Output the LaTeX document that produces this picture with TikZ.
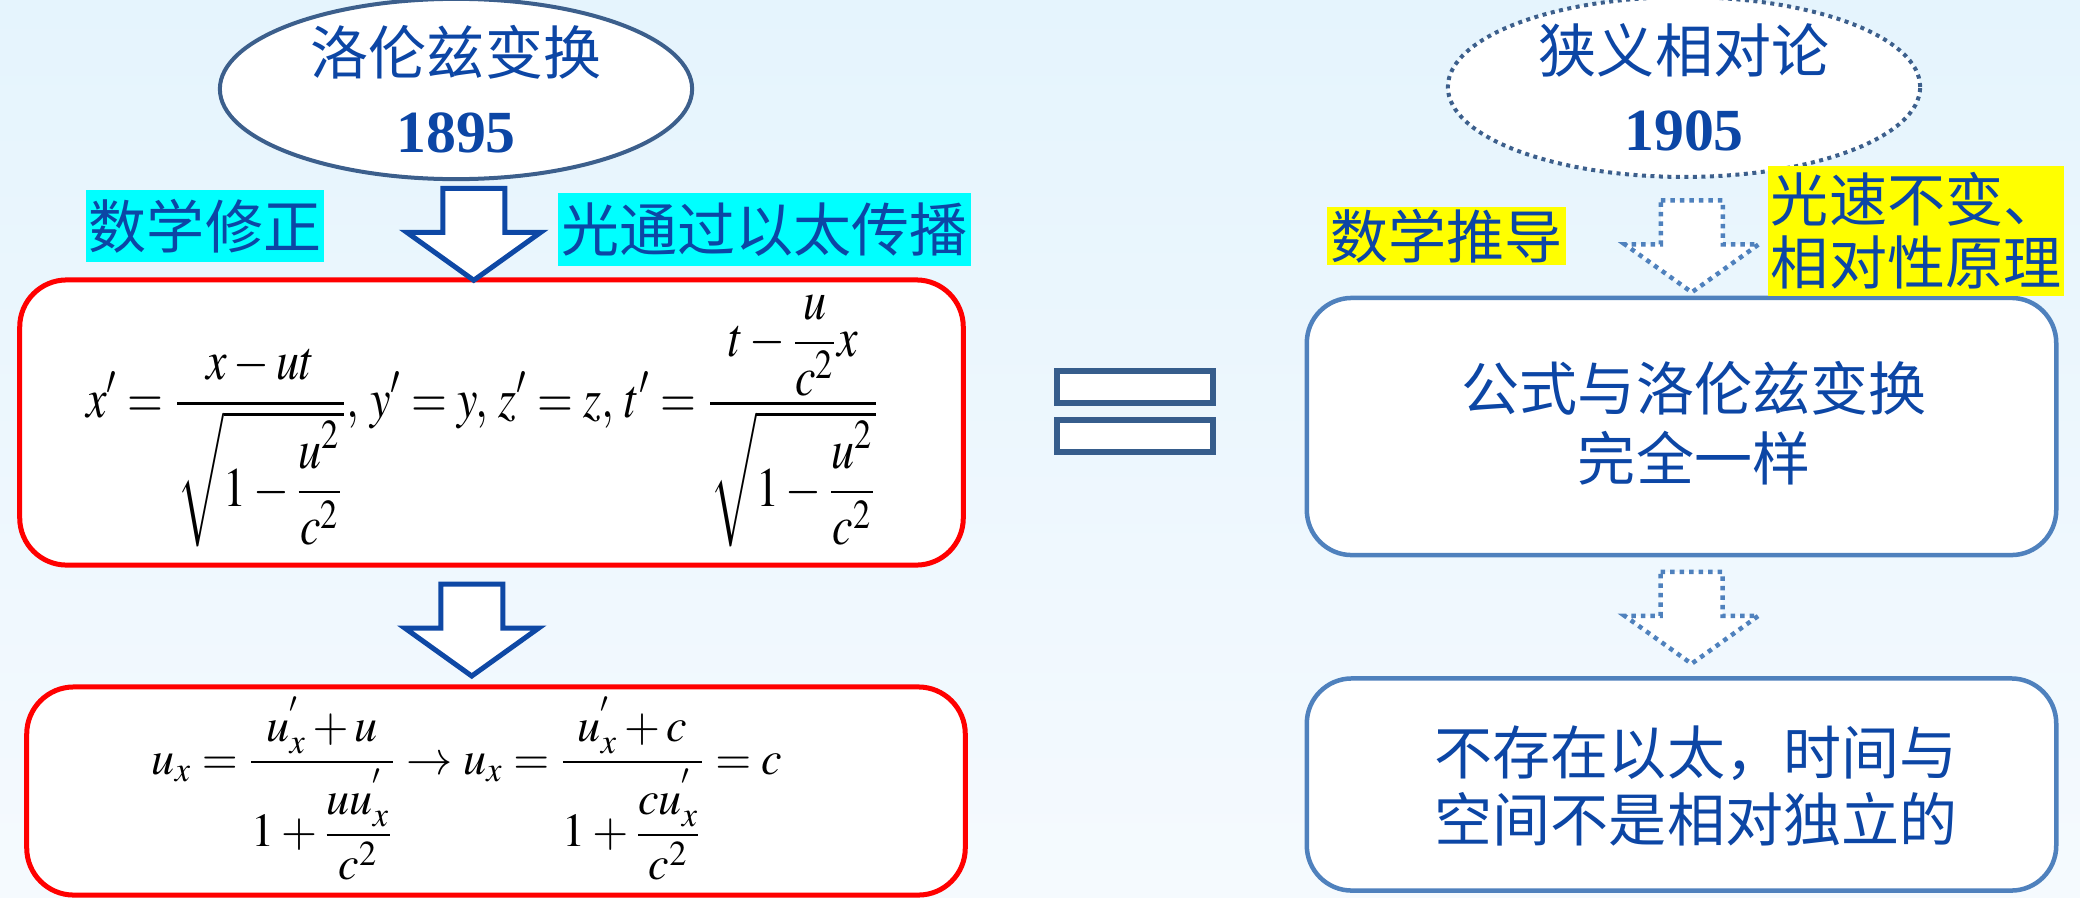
\documentclass[tikz,border=0pt]{standalone}
\usepackage{amsmath}
\usepackage{mathptmx}
\usepackage[no-math]{fontspec}
\usepackage{graphicx}
\setmainfont{Liberation Serif}
\newfontfamily\cjk{Noto Sans CJK SC}
\usetikzlibrary{shapes.geometric,calc}
\definecolor{bgtop}{RGB}{229,244,253}
\definecolor{bgbot}{RGB}{245,250,254}
\definecolor{txtblue}{RGB}{12,70,165}
\definecolor{arrblue}{RGB}{14,72,165}
\definecolor{ellblue}{RGB}{60,95,140}
\definecolor{boxblue}{RGB}{79,129,189}
\definecolor{eqblue}{RGB}{54,93,140}
\definecolor{tagcyan}{RGB}{0,255,255}
\definecolor{tagyellow}{RGB}{255,255,0}
\definecolor{boxred}{RGB}{255,0,0}
\tikzset{font=\cjk\fontsize{16.5}{19.8}\selectfont}
\tikzset{
  titleell/.style={ellipse, draw=ellblue, line width=0.04cm, fill=white, minimum width=4.72cm,
    minimum height=1.55cm, inner sep=0pt, align=center, text=txtblue},
  redbox/.style={rectangle, rounded corners=0.47cm, draw=boxred, line width=0.05cm, fill=white, inner sep=0pt},
  bluebox/.style={rectangle, rounded corners=0.45cm, draw=boxblue, line width=0.045cm, fill=white, inner sep=0pt},
  tag/.style={text=txtblue, inner xsep=0.03cm, inner ysep=0pt, align=left},
  eqbar/.style={rectangle, draw=eqblue, line width=0.06cm, fill=white, minimum width=1.56cm,
    minimum height=0.32cm, inner sep=0pt},
  solidarr/.style={draw=arrblue, line width=0.05cm, fill=white},
  dotarr/.style={draw=boxblue, line width=0.045cm, fill=white, dash pattern=on 0.045cm off 0.05cm},
  downarr/.pic={
    \path[pic actions] (-31,-46) -- (31,-46) -- (31,-2) -- (67,-2) -- (0,46) -- (-67,-2) -- (-31,-2) -- cycle;
  }
}
\newcommand{\yr}[1]{{\rmfamily\bfseries\fontsize{17}{19.8}\selectfont #1}}

\begin{document}
\begin{tikzpicture}[x=0.01cm,y=-0.01cm]
  \useasboundingbox (0,0) rectangle (2080,897);
  \fill[top color=bgtop, bottom color=bgbot] (0,0) rectangle (2080,897);

  \node[titleell] (ellL) at (456,89) {洛伦兹变换\\[0.08cm]\yr{1895}};
  \node[titleell, dash pattern=on 0.04cm off 0.045cm] (ellR) at (1684,87) {狭义相对论\\[0.08cm]\yr{1905}};

  \node[redbox, minimum width=9.43cm, minimum height=2.85cm] (boxL1) at (491.5,422.5) {};
  \node[redbox, minimum width=9.38cm, minimum height=2.08cm] (boxL2) at (496,791) {};
  \node[bluebox, minimum width=7.49cm, minimum height=2.57cm] (boxR1) at (1681.5,426.5) {};
  \node[bluebox, minimum width=7.49cm, minimum height=2.12cm] (boxR2) at (1681.5,784.5) {};

  \node[inner sep=0pt] (fmL1) at (483,421) {\resizebox*{7.93cm}{2.52cm}{$\displaystyle
    x'=\frac{x-ut}{\sqrt{1-\dfrac{u^2}{c^2}}},\,y'=y,\,z'=z,\,t'=\frac{t-\dfrac{u}{c^2}x}{\sqrt{1-\dfrac{u^2}{c^2}}}$}};
  \node[inner sep=0pt] (fmL2) at (467,788) {\resizebox*{6.30cm}{1.83cm}{$\displaystyle
    u_x=\frac{u_x^{'}+u}{1+\dfrac{uu_x^{'}}{c^2}}\rightarrow u_x=\frac{u_x^{'}+c}{1+\dfrac{cu_x^{'}}{c^2}}=c$}};

  \node[text=txtblue, align=center, font=\cjk\fontsize{16.5}{19.9}\selectfont] (txtR1) at (1694,423)
    {公式与洛伦兹变换\\完全一样};
  \node[text=txtblue, align=center, font=\cjk\fontsize{16.5}{19}\selectfont] (txtR2) at (1696,786)
    {不存在以太，时间与\\空间不是相对独立的};

  \node[tag, fill=tagcyan, minimum height=0.72cm] (tagL1) at (205,226) {数学修正};
  \node[tag, fill=tagcyan, minimum height=0.73cm] (tagL2) at (764.5,229.5) {光通过以太传播};
  \node[tag, fill=tagyellow, minimum height=0.58cm] (tagR1) at (1446.5,236) {数学推导};
  \node[tag, fill=tagyellow, minimum height=1.30cm, font=\cjk\fontsize{16.5}{17.9}\selectfont] (tagR2) at (1916,231)
    {光速不变、\\相对性原理};

  \node[eqbar] (eqtop) at (1135,387) {};
  \node[eqbar] (eqbot) at (1135,436) {};

  \pic[solidarr] at ($(ellL.south)!.5!(boxL1.north)+(0,5)$) {downarr};
  \pic[solidarr] at ($(boxL1.south)!.5!(boxL2.north)+(-22,4)$) {downarr};
  \pic[dotarr] at ($(ellR.south)!.5!(boxR1.north)+(9,9)$) {downarr};
  \pic[dotarr] at ($(boxR1.south)!.5!(boxR2.north)+(10,1)$) {downarr};
\end{tikzpicture}
\end{document}
